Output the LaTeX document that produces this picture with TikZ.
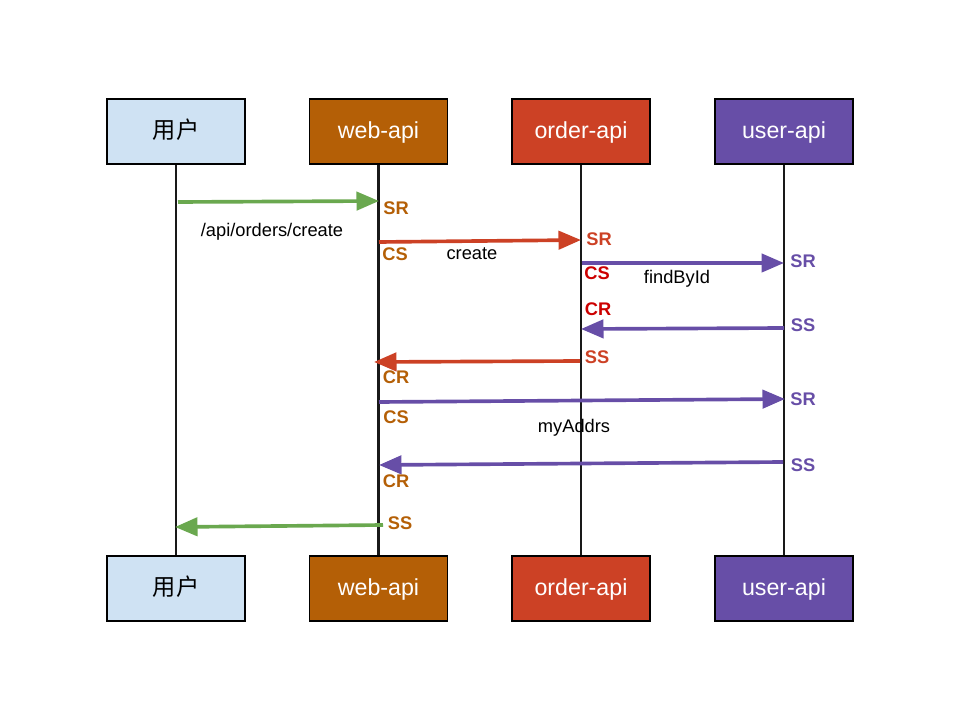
\documentclass[tikz,border=0pt]{standalone}
\usepackage{fontspec}
\setmainfont{Liberation Sans}
\newfontfamily\cjk{Noto Sans CJK SC}
\usepackage{xcolor}
\usepackage{tikz}
\usetikzlibrary{arrows.meta,positioning}
\definecolor{usrblue}{HTML}{CFE2F3}
\definecolor{webbrown}{HTML}{B45F06}
\definecolor{ordred}{HTML}{CC4125}
\definecolor{uapipurple}{HTML}{674EA7}
\definecolor{callgreen}{HTML}{6AA84F}
\definecolor{darkred}{HTML}{CC0000}

\begin{document}
\begin{tikzpicture}[x=0.025cm,y=-0.025cm,every node/.style={font=\fontsize{13}{15}\selectfont,align=center},
  actor/.style={draw=black,line width=0.8pt,fill=#1,minimum width=3.45cm,minimum height=1.625cm,font=\fontsize{16.5}{19}\selectfont,inner sep=0pt,text depth=0pt,text height=10pt},
  lifeline/.style={line width=1.6pt,black!90},
  msg/.style={line width=2.6pt,draw=#1,-{Triangle[length=16pt,width=13pt,fill=#1]}},
  tag/.style={text=#1,font=\fontsize{13}{15}\selectfont\bfseries,inner sep=0pt}]
\useasboundingbox (0,0) rectangle (960,720);
% participants, top and bottom
\node[actor=usrblue] (usrtop) at (176,131.5) {\cjk 用户};
\node[actor=webbrown,text=white] (webtop) at (378.5,131.5) {web-api};
\node[actor=ordred,text=white] (ordtop) at (581,131.5) {order-api};
\node[actor=uapipurple,text=white] (uapitop) at (784,131.5) {user-api};
\node[actor=usrblue] (usrbot) at (176,588.5) {\cjk 用户};
\node[actor=webbrown,text=white] (webbot) at (378.5,588.5) {web-api};
\node[actor=ordred,text=white] (ordbot) at (581,588.5) {order-api};
\node[actor=uapipurple,text=white] (uapibot) at (784,588.5) {user-api};
\draw[lifeline] (usrtop.south) -- (usrbot.north);
\draw[lifeline] (webtop.south) -- (webbot.north);
\draw[lifeline] (ordtop.south) -- (ordbot.north);
\draw[lifeline] (uapitop.south) -- (uapibot.north);
% message end points
\coordinate (c1a) at (178,202); \coordinate (c1b) at (379,201);
\coordinate (c2a) at (379,242); \coordinate (c2b) at (581,240);
\coordinate (c3a) at (582,263); \coordinate (c3b) at (784,263);
\coordinate (c4a) at (784,328); \coordinate (c4b) at (581,329);
\coordinate (c5a) at (580,361); \coordinate (c5b) at (374,362);
\coordinate (c6a) at (379,402); \coordinate (c6b) at (785,399);
\coordinate (c7a) at (783,462); \coordinate (c7b) at (379,465);
\coordinate (c8a) at (383,525); \coordinate (c8b) at (175,527);
\draw[msg=callgreen] (c1a) -- (c1b);
\draw[msg=ordred] (c2a) -- (c2b);
\draw[msg=uapipurple] (c3a) -- (c3b);
\draw[msg=uapipurple] (c4a) -- (c4b);
\draw[msg=ordred] (c5a) -- (c5b);
\draw[msg=uapipurple] (c6a) -- (c6b);
\draw[msg=uapipurple] (c7a) -- (c7b);
\draw[msg=callgreen] (c8a) -- (c8b);
% call names
\node (lblcreateapi) at (272,232) {/api/orders/create};
\node (lblcreate) at (472,254) {create};
\node (lblfind) at (677,279) {findById};
\node (lbladdrs) at (574,428) {myAddrs};
% span annotations
\node[tag=webbrown] (websr) at (396,208) {SR};
\node[tag=webbrown] (webcs) at (395,254) {CS};
\node[tag=ordred] (ordsr) at (599,239) {SR};
\node[tag=darkred] (ordcs) at (597,273) {CS};
\node[tag=uapipurple] (uapisr) at (803,261) {SR};
\node[tag=darkred] (ordcr) at (598,309) {CR};
\node[tag=uapipurple] (uapiss) at (803,325) {SS};
\node[tag=ordred] (ordss) at (597,357) {SS};
\node[tag=webbrown] (webcr) at (396,377) {CR};
\node[tag=webbrown] (webcs2) at (396,417) {CS};
\node[tag=uapipurple] (uapisr2) at (803,399) {SR};
\node[tag=uapipurple] (uapiss2) at (803,465) {SS};
\node[tag=webbrown] (webcr2) at (396,481) {CR};
\node[tag=webbrown] (webss) at (400,523) {SS};
\end{tikzpicture}
\end{document}
